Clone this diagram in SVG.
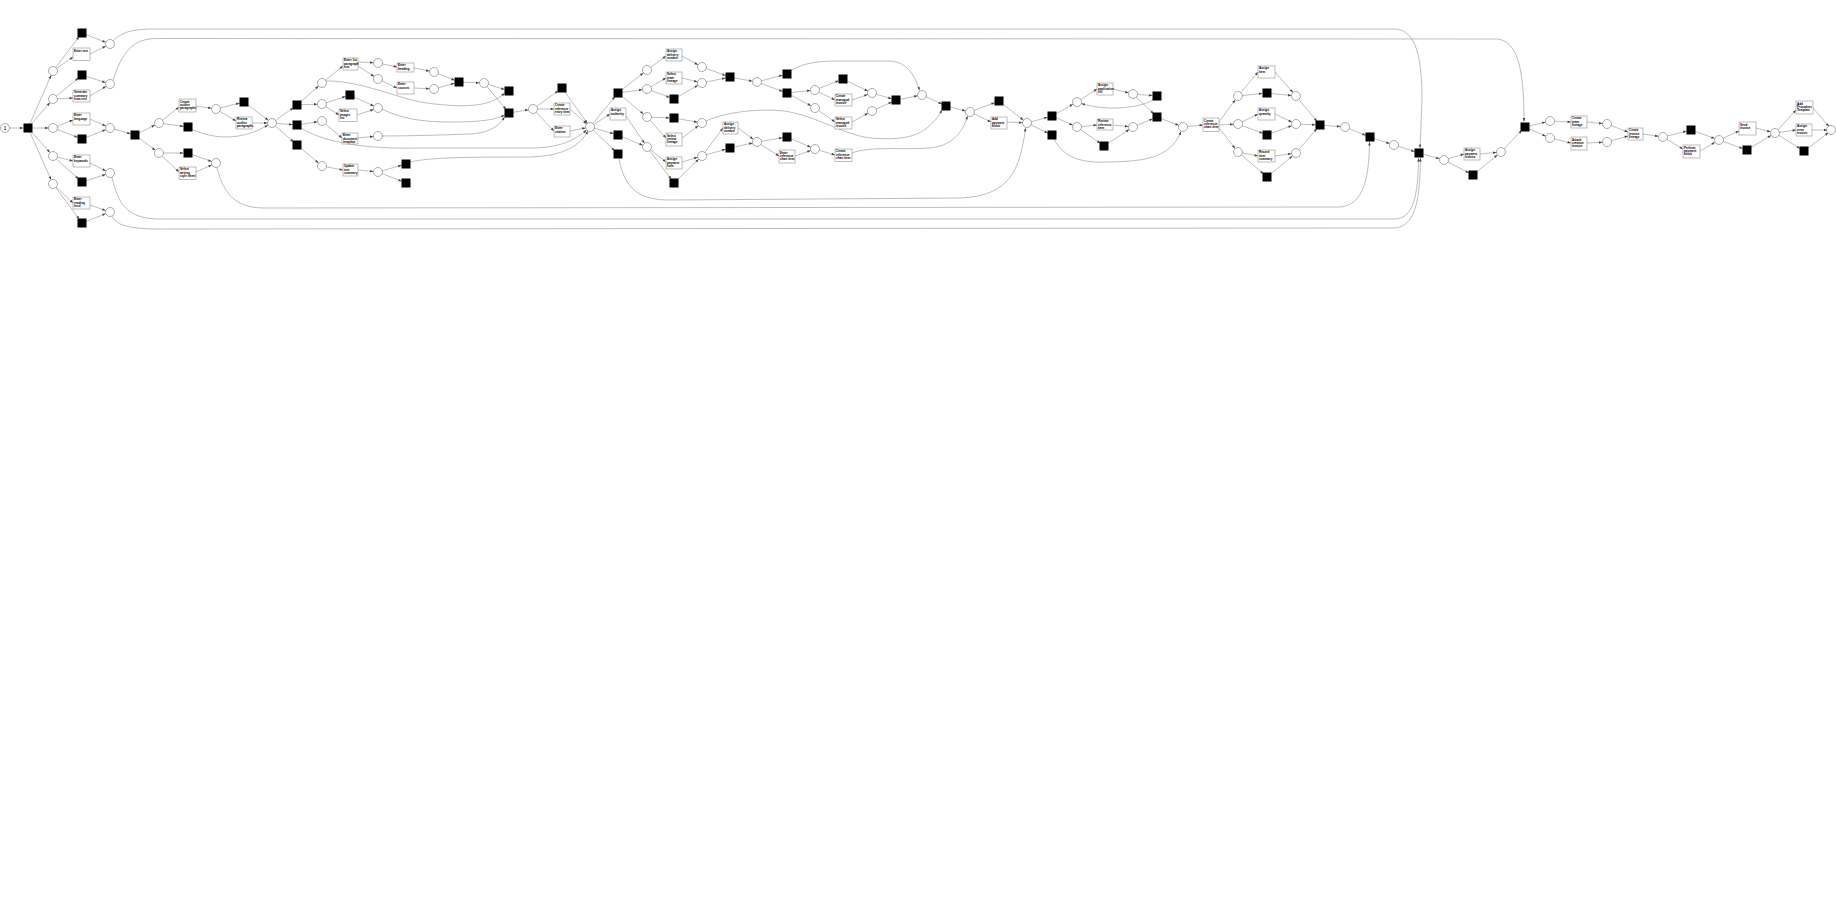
<svg xmlns="http://www.w3.org/2000/svg" width="1836" height="903" viewBox="0 0 1836 903">
<style>
.a{fill:none;stroke:#888;stroke-width:0.55;marker-end:url(#ah)}
.b{fill:none;stroke:#888;stroke-width:0.55;marker-end:url(#ahb)}
.p{fill:#fff;stroke:#666;stroke-width:0.55}
.t{fill:#000}
.x{fill:#fff;stroke:#888;stroke-width:0.55}
.l{font-family:"Liberation Sans",Arial,sans-serif;font-size:3px;font-weight:bold;fill:#000}
</style>
<defs>
<marker id="ah" markerUnits="userSpaceOnUse" markerWidth="4" markerHeight="3" refX="8" refY="1.25" orient="auto" overflow="visible"><path d="M0,0 L3.4,1.25 L0,2.5 z" fill="#444"/></marker>
<marker id="ahb" markerUnits="userSpaceOnUse" markerWidth="4" markerHeight="3" refX="3.4" refY="1.25" orient="auto" overflow="visible"><path d="M0,0 L3.4,1.25 L0,2.5 z" fill="#444"/></marker>
</defs>
<rect width="1836" height="903" fill="#fff"/>
<g id="connectors">
<path class="a" d="M5,128 L28,128"/>
<path class="a" d="M28,128 L53,71"/><path class="a" d="M28,128 L53,99"/><path class="a" d="M28,128 L53,128"/><path class="a" d="M28,128 L53,156"/><path class="a" d="M28,128 L53,184"/>
<path class="a" d="M53,71 L82,33"/><path class="b" d="M53,71 L73,57"/><path class="a" d="M82,33 L110,44"/><path class="a" d="M90,54 L110,44"/>
<path class="a" d="M53,99 L82,75"/><path class="b" d="M53,99 L73,98"/><path class="a" d="M82,75 L110,84"/><path class="a" d="M90,96 L110,84"/>
<path class="b" d="M53,128 L73,120"/><path class="a" d="M53,128 L82,139"/><path class="a" d="M90,119 L110,128"/><path class="a" d="M82,139 L110,128"/>
<path class="b" d="M53,156 L73,161"/><path class="a" d="M53,156 L82,182"/><path class="a" d="M90,163 L110,173"/><path class="a" d="M82,182 L110,173"/>
<path class="b" d="M53,184 L73,203"/><path class="a" d="M53,184 L82,223"/><path class="a" d="M90,205 L110,212"/><path class="a" d="M82,223 L110,212"/>
<path class="a" d="M110,128 L135,135"/><path class="a" d="M135,135 L159,123"/><path class="a" d="M135,135 L159,153"/>
<path class="b" d="M113,41 C122,32 132,29 155,29 L1395,29 C1417,30 1422,60 1422,100 L1420,148"/>
<path class="b" d="M113,80 C120,60 128,39 155,38.5 L1498,39 C1518,42 1524,70 1524,121.5"/>
<path class="b" d="M112,177 C118,205 128,219 160,219 L1395,219 C1414,218 1418,195 1418.5,158"/>
<path class="b" d="M112,216 C116,225 128,229 160,229 L1395,228 C1417,226 1420,195 1420.5,158"/>
<path class="b" d="M217,168 C224,195 236,207 262,208 L1340,207 C1363,205 1369,180 1369.5,142"/>
<path class="b" d="M159,123 L179,107"/><path class="a" d="M159,123 L188,127"/><path class="a" d="M196,106 L216,109"/>
<path class="b" d="M191,129 C220,142 246,138 268,125"/>
<path class="a" d="M216,109 L244,102"/><path class="b" d="M216,109 L236,121"/><path class="a" d="M244,102 L272,123"/><path class="a" d="M252,123 L272,123"/>
<path class="a" d="M159,153 L188,153"/><path class="b" d="M159,153 L179,172"/><path class="a" d="M188,153 L216,163"/><path class="a" d="M196,172 L216,163"/>
<path class="a" d="M272,123 L297,105"/><path class="a" d="M272,123 L297,125"/><path class="a" d="M272,123 L297,145"/>
<path class="a" d="M297,105 L322,83"/><path class="a" d="M297,105 L322,104"/><path class="a" d="M297,125 L322,121"/><path class="a" d="M297,145 L322,166"/>
<path class="b" d="M322,83 L343,66"/><path class="a" d="M358,62 L378,63"/><path class="a" d="M358,66 L378,79"/>
<path class="b" d="M378,63 L397,67"/><path class="b" d="M378,79 L397,88"/><path class="a" d="M414,68 L434,72"/><path class="a" d="M414,88 L434,89"/>
<path class="a" d="M434,72 L459,82"/><path class="a" d="M434,89 L459,82"/><path class="a" d="M459,82 L484,83"/>
<path class="a" d="M484,83 L509,91"/><path class="a" d="M484,83 L509,113"/>
<path class="b" d="M326,81 C355,80 390,95 420,102 C460,108 490,108 504.5,93"/>
<path class="a" d="M322,104 L350,95"/><path class="b" d="M322,104 L339,115"/><path class="a" d="M350,95 L378,108"/><path class="a" d="M357,115 L378,108"/>
<path class="b" d="M322,121 L342,138"/><path class="a" d="M358,138 L378,136"/>
<path class="b" d="M322,166 L343,170"/><path class="a" d="M358,170 L378,172"/>
<path class="a" d="M378,172 L406,164"/><path class="a" d="M378,172 L406,183"/>
<path class="b" d="M382,109 C400,118 420,122 450,122 C480,122 495,120 504.5,115"/>
<path class="b" d="M382,136 C410,136 440,135 470,134 C490,133 500,125 504.5,117"/>
<path class="b" d="M301,128 C330,146 380,149 420,148 L530,148 C560,148 575,140 586.5,130"/>
<path class="b" d="M410,162 C430,158 450,157 530,157 C565,156 580,145 588,131"/>
<path class="a" d="M509,113 L533,109"/>
<path class="a" d="M533,109 L562,88"/><path class="b" d="M533,109 L554,109"/><path class="b" d="M533,109 L554,131"/>
<path class="a" d="M562,88 L590,127"/><path class="a" d="M570,109 L590,127"/><path class="a" d="M570,131 L590,127"/>
<path class="a" d="M590,127 L618,93"/><path class="b" d="M590,127 L610,114"/><path class="a" d="M590,127 L618,135"/><path class="a" d="M590,127 L618,154"/>
<path class="a" d="M618,93 L647,70"/><path class="a" d="M618,93 L647,89"/><path class="a" d="M618,93 L647,117"/>
<path class="a" d="M626,116 L647,147"/><path class="a" d="M618,135 L647,147"/>
<path class="b" d="M619,159 C625,190 640,200 670,200 L960,198 C1010,196 1020,170 1025.5,128"/>
<path class="b" d="M647,70 L666,56"/><path class="a" d="M682,56 L702,67"/>
<path class="b" d="M647,89 L666,78"/><path class="a" d="M647,89 L674,99"/><path class="a" d="M682,78 L702,83"/><path class="a" d="M674,99 L702,83"/>
<path class="a" d="M702,67 L730,77"/><path class="a" d="M702,83 L730,77"/><path class="a" d="M730,77 L757,82"/>
<path class="a" d="M647,117 L674,118"/><path class="b" d="M647,117 L666,138"/><path class="a" d="M674,118 L702,123"/><path class="a" d="M682,138 L702,123"/>
<path class="b" d="M647,147 L666,162"/><path class="a" d="M647,147 L674,183"/><path class="a" d="M682,162 L702,156"/><path class="a" d="M674,183 L702,156"/>
<path class="b" d="M702,156 L723,128"/><path class="a" d="M702,156 L730,148"/><path class="a" d="M738,128 L757,142"/><path class="a" d="M730,148 L757,142"/>
<path class="b" d="M706,121 C730,110 770,108 790,112 C820,118 845,135 870,138 C900,140 925,140 942,110"/>
<path class="a" d="M757,82 L787,74"/><path class="a" d="M757,82 L787,93"/>
<path class="b" d="M790,71 C805,62 820,61 840,61 L890,61 C905,62 914,72 919.5,90.5"/>
<path class="a" d="M787,93 L815,90"/><path class="a" d="M787,93 L815,108"/>
<path class="a" d="M815,90 L843,79"/><path class="b" d="M815,90 L835,100"/><path class="a" d="M843,79 L872,93"/><path class="a" d="M852,100 L872,93"/>
<path class="b" d="M815,108 L835,122"/><path class="a" d="M852,122 L872,111"/>
<path class="a" d="M872,93 L896,100"/><path class="a" d="M872,111 L896,100"/><path class="a" d="M896,100 L922,95"/>
<path class="a" d="M757,142 L787,137"/><path class="b" d="M757,142 L779,156"/><path class="a" d="M787,137 L815,149"/><path class="a" d="M795,156 L815,149"/>
<path class="b" d="M815,149 L835,155"/>
<path class="b" d="M852,153 C870,146 900,150 930,148 C950,146 962,135 967.5,116"/>
<path class="a" d="M922,95 L946,106"/><path class="a" d="M946,106 L970,112"/>
<path class="a" d="M970,112 L999,101"/><path class="b" d="M970,112 L991,122"/><path class="a" d="M999,101 L1027,123"/><path class="a" d="M1007,122 L1027,123"/>
<path class="a" d="M1027,123 L1052,116"/><path class="a" d="M1027,123 L1052,135"/>
<path class="a" d="M1052,116 L1077,102"/><path class="a" d="M1052,116 L1077,127"/>
<path class="b" d="M1077,102 L1097,89"/><path class="a" d="M1113,89 L1133,94"/>
<path class="a" d="M1133,94 L1157,96"/><path class="a" d="M1133,94 L1157,117"/>
<path class="b" d="M1153,100 C1135,110 1100,110 1081.5,103.5"/>
<path class="b" d="M1077,127 L1097,125"/><path class="a" d="M1077,127 L1104,146"/><path class="a" d="M1113,125 L1133,127"/><path class="a" d="M1104,146 L1133,127"/>
<path class="a" d="M1133,127 L1157,117"/><path class="a" d="M1157,117 L1183,127"/>
<path class="b" d="M1054,139 C1065,160 1085,163 1110,162 C1140,161 1170,160 1181,131.5"/>
<path class="b" d="M1183,127 L1203,125"/>
<path class="a" d="M1219,122 L1238,96"/><path class="a" d="M1219,125 L1238,124"/><path class="a" d="M1219,128 L1238,152"/>
<path class="b" d="M1238,96 L1258,72"/><path class="a" d="M1238,96 L1267,93"/><path class="a" d="M1275,72 L1296,96"/><path class="a" d="M1267,93 L1296,96"/>
<path class="b" d="M1238,124 L1258,114"/><path class="a" d="M1238,124 L1267,135"/><path class="a" d="M1275,114 L1296,124"/><path class="a" d="M1267,135 L1296,124"/>
<path class="b" d="M1238,152 L1258,156"/><path class="a" d="M1238,152 L1267,177"/><path class="a" d="M1275,156 L1296,153"/><path class="a" d="M1267,177 L1296,153"/>
<path class="a" d="M1296,96 L1320,125"/><path class="a" d="M1296,124 L1320,125"/><path class="a" d="M1296,153 L1320,125"/>
<path class="a" d="M1320,125 L1345,127"/><path class="a" d="M1345,127 L1370,137"/><path class="a" d="M1370,137 L1394,145"/><path class="a" d="M1394,145 L1419,153"/><path class="a" d="M1419,153 L1444,160"/>
<path class="b" d="M1444,160 L1464,154"/><path class="a" d="M1444,160 L1473,175"/><path class="a" d="M1480,154 L1501,152"/><path class="a" d="M1473,175 L1501,152"/>
<path class="a" d="M1501,152 L1525,127"/><path class="a" d="M1525,127 L1550,121"/><path class="a" d="M1525,127 L1550,138"/>
<path class="b" d="M1550,121 L1571,122"/><path class="b" d="M1550,138 L1571,143"/><path class="a" d="M1587,122 L1607,124"/><path class="a" d="M1587,143 L1607,142"/>
<path class="b" d="M1607,124 L1628,132"/><path class="b" d="M1607,142 L1628,136"/><path class="a" d="M1643,134 L1663,137"/>
<path class="a" d="M1663,137 L1691,130"/><path class="b" d="M1663,137 L1683,149"/><path class="a" d="M1691,130 L1719,140"/><path class="a" d="M1700,151 L1719,140"/>
<path class="b" d="M1719,140 L1739,131"/><path class="a" d="M1719,140 L1747,150"/><path class="a" d="M1756,128 L1775,133"/><path class="a" d="M1747,150 L1775,133"/>
<path class="b" d="M1775,133 L1796,110"/><path class="b" d="M1775,133 L1796,130"/><path class="a" d="M1775,133 L1804,151"/>
<path class="a" d="M1813,108 L1832,130"/><path class="a" d="M1812,130 L1832,130"/><path class="a" d="M1804,151 L1832,130"/>
</g>
<g id="p0"><circle class="p" cx="5" cy="128" r="4.5"/><text x="5" y="130" font-family="Liberation Sans,Arial,sans-serif" font-size="5.5" text-anchor="middle">1</text></g>
<g id="p1"><circle class="p" cx="53" cy="71" r="4.5"/></g>
<g id="p2"><circle class="p" cx="53" cy="99" r="4.5"/></g>
<g id="p3"><circle class="p" cx="53" cy="128" r="4.5"/></g>
<g id="p4"><circle class="p" cx="53" cy="156" r="4.5"/></g>
<g id="p5"><circle class="p" cx="53" cy="184" r="4.5"/></g>
<g id="p1b"><circle class="p" cx="110" cy="44" r="4.5"/></g>
<g id="p2b"><circle class="p" cx="110" cy="84" r="4.5"/></g>
<g id="p3b"><circle class="p" cx="110" cy="128" r="4.5"/></g>
<g id="p4b"><circle class="p" cx="110" cy="173" r="4.5"/></g>
<g id="p5b"><circle class="p" cx="110" cy="212" r="4.5"/></g>
<g id="p6"><circle class="p" cx="159" cy="123" r="4.5"/></g>
<g id="p7"><circle class="p" cx="159" cy="153" r="4.5"/></g>
<g id="p8"><circle class="p" cx="216" cy="109" r="4.5"/></g>
<g id="p9"><circle class="p" cx="216" cy="163" r="4.5"/></g>
<g id="p10"><circle class="p" cx="272" cy="123" r="4.5"/></g>
<g id="p11"><circle class="p" cx="322" cy="83" r="4.5"/></g>
<g id="p12"><circle class="p" cx="322" cy="104" r="4.5"/></g>
<g id="p13"><circle class="p" cx="322" cy="121" r="4.5"/></g>
<g id="p14"><circle class="p" cx="322" cy="166" r="4.5"/></g>
<g id="p15"><circle class="p" cx="378" cy="63" r="4.5"/></g>
<g id="p16"><circle class="p" cx="378" cy="79" r="4.5"/></g>
<g id="p17"><circle class="p" cx="378" cy="108" r="4.5"/></g>
<g id="p18"><circle class="p" cx="378" cy="136" r="4.5"/></g>
<g id="p19"><circle class="p" cx="378" cy="172" r="4.5"/></g>
<g id="p20"><circle class="p" cx="434" cy="72" r="4.5"/></g>
<g id="p21"><circle class="p" cx="434" cy="89" r="4.5"/></g>
<g id="p22"><circle class="p" cx="484" cy="83" r="4.5"/></g>
<g id="p23"><circle class="p" cx="533" cy="109" r="4.5"/></g>
<g id="p24"><circle class="p" cx="590" cy="127" r="4.5"/></g>
<g id="p25"><circle class="p" cx="647" cy="70" r="4.5"/></g>
<g id="p26"><circle class="p" cx="647" cy="89" r="4.5"/></g>
<g id="p27"><circle class="p" cx="647" cy="117" r="4.5"/></g>
<g id="p28"><circle class="p" cx="647" cy="147" r="4.5"/></g>
<g id="p29"><circle class="p" cx="702" cy="67" r="4.5"/></g>
<g id="p30"><circle class="p" cx="702" cy="83" r="4.5"/></g>
<g id="p31"><circle class="p" cx="702" cy="123" r="4.5"/></g>
<g id="p32"><circle class="p" cx="702" cy="156" r="4.5"/></g>
<g id="p33"><circle class="p" cx="757" cy="82" r="4.5"/></g>
<g id="p34"><circle class="p" cx="757" cy="142" r="4.5"/></g>
<g id="p35"><circle class="p" cx="815" cy="90" r="4.5"/></g>
<g id="p36"><circle class="p" cx="815" cy="108" r="4.5"/></g>
<g id="p37"><circle class="p" cx="815" cy="149" r="4.5"/></g>
<g id="p38"><circle class="p" cx="872" cy="93" r="4.5"/></g>
<g id="p39"><circle class="p" cx="872" cy="111" r="4.5"/></g>
<g id="p40"><circle class="p" cx="922" cy="95" r="4.5"/></g>
<g id="p41"><circle class="p" cx="970" cy="112" r="4.5"/></g>
<g id="p42"><circle class="p" cx="1027" cy="123" r="4.5"/></g>
<g id="p43"><circle class="p" cx="1077" cy="102" r="4.5"/></g>
<g id="p44"><circle class="p" cx="1077" cy="127" r="4.5"/></g>
<g id="p45"><circle class="p" cx="1133" cy="94" r="4.5"/></g>
<g id="p46"><circle class="p" cx="1133" cy="127" r="4.5"/></g>
<g id="p47"><circle class="p" cx="1183" cy="127" r="4.5"/></g>
<g id="p48"><circle class="p" cx="1238" cy="96" r="4.5"/></g>
<g id="p49"><circle class="p" cx="1238" cy="124" r="4.5"/></g>
<g id="p50"><circle class="p" cx="1238" cy="152" r="4.5"/></g>
<g id="p51"><circle class="p" cx="1296" cy="96" r="4.5"/></g>
<g id="p52"><circle class="p" cx="1296" cy="124" r="4.5"/></g>
<g id="p53"><circle class="p" cx="1296" cy="153" r="4.5"/></g>
<g id="p54"><circle class="p" cx="1345" cy="127" r="4.5"/></g>
<g id="p55"><circle class="p" cx="1394" cy="145" r="4.5"/></g>
<g id="p56"><circle class="p" cx="1444" cy="160" r="4.5"/></g>
<g id="p57"><circle class="p" cx="1501" cy="152" r="4.5"/></g>
<g id="p58"><circle class="p" cx="1550" cy="121" r="4.5"/></g>
<g id="p59"><circle class="p" cx="1550" cy="138" r="4.5"/></g>
<g id="p60"><circle class="p" cx="1607" cy="124" r="4.5"/></g>
<g id="p61"><circle class="p" cx="1607" cy="142" r="4.5"/></g>
<g id="p62"><circle class="p" cx="1663" cy="137" r="4.5"/></g>
<g id="p63"><circle class="p" cx="1719" cy="140" r="4.5"/></g>
<g id="p64"><circle class="p" cx="1775" cy="133" r="4.5"/></g>
<g id="p65"><circle class="p" cx="1831" cy="130" r="4.5"/></g>
<g id="t0"><rect class="t" x="23.5" y="123.5" width="9" height="9"/></g>
<g id="t1a"><rect class="t" x="77.5" y="28.5" width="9" height="9"/></g>
<g id="t2a"><rect class="t" x="77.5" y="70.5" width="9" height="9"/></g>
<g id="t3a"><rect class="t" x="77.5" y="134.5" width="9" height="9"/></g>
<g id="t4a"><rect class="t" x="77.5" y="177.5" width="9" height="9"/></g>
<g id="t5a"><rect class="t" x="77.5" y="218.5" width="9" height="9"/></g>
<g id="t3b"><rect class="t" x="130.5" y="130.5" width="9" height="9"/></g>
<g id="t6"><rect class="t" x="183.5" y="122.5" width="9" height="9"/></g>
<g id="t7"><rect class="t" x="239.5" y="97.5" width="9" height="9"/></g>
<g id="t8"><rect class="t" x="183.5" y="148.5" width="9" height="9"/></g>
<g id="t9"><rect class="t" x="292.5" y="100.5" width="9" height="9"/></g>
<g id="t10"><rect class="t" x="292.5" y="120.5" width="9" height="9"/></g>
<g id="t11"><rect class="t" x="292.5" y="140.5" width="9" height="9"/></g>
<g id="t12"><rect class="t" x="345.5" y="90.5" width="9" height="9"/></g>
<g id="t13"><rect class="t" x="401.5" y="159.5" width="9" height="9"/></g>
<g id="t14"><rect class="t" x="401.5" y="178.5" width="9" height="9"/></g>
<g id="t15"><rect class="t" x="454.5" y="77.5" width="9" height="9"/></g>
<g id="t16"><rect class="t" x="504.5" y="86.5" width="9" height="9"/></g>
<g id="t17"><rect class="t" x="504.5" y="108.5" width="9" height="9"/></g>
<g id="t18"><rect class="t" x="557.5" y="83.5" width="9" height="9"/></g>
<g id="t19"><rect class="t" x="613.5" y="88.5" width="9" height="9"/></g>
<g id="t20"><rect class="t" x="613.5" y="130.5" width="9" height="9"/></g>
<g id="t21"><rect class="t" x="613.5" y="149.5" width="9" height="9"/></g>
<g id="t22"><rect class="t" x="669.5" y="94.5" width="9" height="9"/></g>
<g id="t23"><rect class="t" x="669.5" y="113.5" width="9" height="9"/></g>
<g id="t24"><rect class="t" x="669.5" y="178.5" width="9" height="9"/></g>
<g id="t25"><rect class="t" x="725.5" y="72.5" width="9" height="9"/></g>
<g id="t26"><rect class="t" x="725.5" y="143.5" width="9" height="9"/></g>
<g id="t27"><rect class="t" x="782.5" y="69.5" width="9" height="9"/></g>
<g id="t28"><rect class="t" x="782.5" y="88.5" width="9" height="9"/></g>
<g id="t29"><rect class="t" x="782.5" y="132.5" width="9" height="9"/></g>
<g id="t30"><rect class="t" x="838.5" y="74.5" width="9" height="9"/></g>
<g id="t31"><rect class="t" x="891.5" y="95.5" width="9" height="9"/></g>
<g id="t32"><rect class="t" x="941.5" y="101.5" width="9" height="9"/></g>
<g id="t33"><rect class="t" x="994.5" y="96.5" width="9" height="9"/></g>
<g id="t34"><rect class="t" x="1047.5" y="111.5" width="9" height="9"/></g>
<g id="t35"><rect class="t" x="1047.5" y="130.5" width="9" height="9"/></g>
<g id="t36"><rect class="t" x="1152.5" y="91.5" width="9" height="9"/></g>
<g id="t37"><rect class="t" x="1152.5" y="112.5" width="9" height="9"/></g>
<g id="t38"><rect class="t" x="1099.5" y="141.5" width="9" height="9"/></g>
<g id="t39"><rect class="t" x="1262.5" y="88.5" width="9" height="9"/></g>
<g id="t40"><rect class="t" x="1262.5" y="130.5" width="9" height="9"/></g>
<g id="t41"><rect class="t" x="1262.5" y="172.5" width="9" height="9"/></g>
<g id="t42"><rect class="t" x="1315.5" y="120.5" width="9" height="9"/></g>
<g id="t43"><rect class="t" x="1365.5" y="132.5" width="9" height="9"/></g>
<g id="t44"><rect class="t" x="1414.5" y="148.5" width="9" height="9"/></g>
<g id="t45"><rect class="t" x="1468.5" y="170.5" width="9" height="9"/></g>
<g id="t46"><rect class="t" x="1520.5" y="122.5" width="9" height="9"/></g>
<g id="t47"><rect class="t" x="1686.5" y="125.5" width="9" height="9"/></g>
<g id="t48"><rect class="t" x="1742.5" y="145.5" width="9" height="9"/></g>
<g id="t49"><rect class="t" x="1799.5" y="146.5" width="9" height="9"/></g>
<g id="b1"><rect class="x" x="73" y="48" width="17" height="12.5"/><text class="l" x="74" y="51.5">Enter text</text></g>
<g id="b2"><rect class="x" x="73" y="90" width="17" height="12"/><text class="l" x="74" y="93.3">Generate</text><text class="l" x="74" y="96.6">summary</text><text class="l" x="74" y="99.9">from text</text></g>
<g id="b3"><rect class="x" x="73" y="113" width="17" height="12"/><text class="l" x="74" y="116.3">Enter</text><text class="l" x="74" y="119.6">language</text></g>
<g id="b4"><rect class="x" x="73" y="155" width="17" height="12"/><text class="l" x="74" y="158.3">Enter</text><text class="l" x="74" y="161.6">keywords</text></g>
<g id="b5"><rect class="x" x="73" y="197" width="17" height="12"/><text class="l" x="74" y="200.3">Enter</text><text class="l" x="74" y="203.6">reading</text><text class="l" x="74" y="206.9">level</text></g>
<g id="b6"><rect class="x" x="179" y="99" width="17" height="13"/><text class="l" x="180" y="102.5">Create</text><text class="l" x="180" y="105.8">outline</text><text class="l" x="180" y="109.1">paragraphs</text></g>
<g id="b7"><rect class="x" x="236" y="117" width="16" height="12"/><text class="l" x="237" y="120.3">Review</text><text class="l" x="237" y="123.6">outline</text><text class="l" x="237" y="126.9">paragraphs</text></g>
<g id="b8"><rect class="x" x="179" y="167" width="17" height="12.5"/><text class="l" x="180" y="170.4">Select</text><text class="l" x="180" y="173.7">writing</text><text class="l" x="180" y="177">style sheet</text></g>
<g id="b9"><rect class="x" x="343" y="58" width="15" height="12"/><text class="l" x="344" y="61.3">Enter 1st</text><text class="l" x="344" y="64.6">paragraph</text><text class="l" x="344" y="67.9">text</text></g>
<g id="b10"><rect class="x" x="397" y="63" width="17" height="9"/><text class="l" x="398" y="66.3">Enter</text><text class="l" x="398" y="69.6">heading</text></g>
<g id="b11"><rect class="x" x="397" y="82" width="17" height="12"/><text class="l" x="398" y="85.3">Enter</text><text class="l" x="398" y="88.6">sources</text></g>
<g id="b12"><rect class="x" x="339" y="109" width="18" height="12.5"/><text class="l" x="340" y="112.3">Select</text><text class="l" x="340" y="115.6">images</text><text class="l" x="340" y="118.9">list</text></g>
<g id="b13"><rect class="x" x="342" y="133" width="16" height="11"/><text class="l" x="343" y="136.3">Enter</text><text class="l" x="343" y="139.6">document</text><text class="l" x="343" y="142.9">template</text></g>
<g id="b14"><rect class="x" x="343" y="164" width="15" height="12"/><text class="l" x="344" y="167.3">Update</text><text class="l" x="344" y="170.6">text</text><text class="l" x="344" y="173.9">summary</text></g>
<g id="b15"><rect class="x" x="554" y="103" width="16" height="12"/><text class="l" x="555" y="106.3">Create</text><text class="l" x="555" y="109.6">reference</text><text class="l" x="555" y="112.9">entry item</text></g>
<g id="b16"><rect class="x" x="554" y="126" width="16" height="11"/><text class="l" x="555" y="129.3">Enter</text><text class="l" x="555" y="132.6">citation</text></g>
<g id="b17"><rect class="x" x="610" y="108" width="16" height="12"/><text class="l" x="611" y="111.3">Assign</text><text class="l" x="611" y="114.6">authority</text></g>
<g id="b18"><rect class="x" x="666" y="49" width="16" height="12"/><text class="l" x="667" y="52.3">Assign</text><text class="l" x="667" y="55.6">delivery</text><text class="l" x="667" y="58.9">number</text></g>
<g id="b19"><rect class="x" x="666" y="72" width="16" height="12"/><text class="l" x="667" y="75.3">Select</text><text class="l" x="667" y="78.6">team</text><text class="l" x="667" y="81.9">lineage</text></g>
<g id="b20"><rect class="x" x="666" y="133" width="16" height="13"/><text class="l" x="667" y="136.5">Select</text><text class="l" x="667" y="139.8">review</text><text class="l" x="667" y="143.1">lineage</text></g>
<g id="b21"><rect class="x" x="666" y="157" width="16" height="12"/><text class="l" x="667" y="160.3">Assign</text><text class="l" x="667" y="163.6">payment</text><text class="l" x="667" y="166.9">form</text></g>
<g id="b22"><rect class="x" x="723" y="122" width="15" height="12"/><text class="l" x="724" y="125.3">Assign</text><text class="l" x="724" y="128.6">delivery</text><text class="l" x="724" y="131.9">number</text></g>
<g id="b23"><rect class="x" x="779" y="150" width="16" height="13"/><text class="l" x="780" y="153.5">Enter</text><text class="l" x="780" y="156.8">reference</text><text class="l" x="780" y="160.1">chart item</text></g>
<g id="b24"><rect class="x" x="835" y="94" width="17" height="12"/><text class="l" x="836" y="97.3">Create</text><text class="l" x="836" y="100.6">managed</text><text class="l" x="836" y="103.9">invoice</text></g>
<g id="b25"><rect class="x" x="835" y="117" width="17" height="12"/><text class="l" x="836" y="120.3">Select</text><text class="l" x="836" y="123.6">managed</text><text class="l" x="836" y="126.9">invoice</text></g>
<g id="b26"><rect class="x" x="835" y="149" width="17" height="12.5"/><text class="l" x="836" y="152.3">Create</text><text class="l" x="836" y="155.6">reference</text><text class="l" x="836" y="158.9">chart item</text></g>
<g id="b27"><rect class="x" x="991" y="117" width="16" height="12"/><text class="l" x="992" y="120.3">Add</text><text class="l" x="992" y="123.6">payment</text><text class="l" x="992" y="126.9">block</text></g>
<g id="b28"><rect class="x" x="1097" y="83" width="16" height="12"/><text class="l" x="1098" y="86.3">Assign</text><text class="l" x="1098" y="89.6">application</text><text class="l" x="1098" y="92.9">list</text></g>
<g id="b29"><rect class="x" x="1097" y="119" width="16" height="11"/><text class="l" x="1098" y="122.3">Review</text><text class="l" x="1098" y="125.6">reference</text><text class="l" x="1098" y="128.9">item</text></g>
<g id="b30"><rect class="x" x="1203" y="118" width="16" height="13.5"/><text class="l" x="1204" y="121.5">Create</text><text class="l" x="1204" y="124.8">reference</text><text class="l" x="1204" y="128.1">chart item</text></g>
<g id="b31"><rect class="x" x="1258" y="66" width="17" height="12"/><text class="l" x="1259" y="69.3">Assign</text><text class="l" x="1259" y="72.6">item</text></g>
<g id="b32"><rect class="x" x="1258" y="108" width="17" height="12"/><text class="l" x="1259" y="111.3">Assign</text><text class="l" x="1259" y="114.6">quantity</text></g>
<g id="b33"><rect class="x" x="1258" y="150" width="17" height="12"/><text class="l" x="1259" y="153.3">Record</text><text class="l" x="1259" y="156.6">item</text><text class="l" x="1259" y="159.9">summary</text></g>
<g id="b34"><rect class="x" x="1464" y="148" width="16" height="12"/><text class="l" x="1465" y="151.3">Assign</text><text class="l" x="1465" y="154.6">payment</text><text class="l" x="1465" y="157.9">invoice</text></g>
<g id="b35"><rect class="x" x="1571" y="116" width="16" height="12"/><text class="l" x="1572" y="119.3">Create</text><text class="l" x="1572" y="122.6">team</text><text class="l" x="1572" y="125.9">lineage</text></g>
<g id="b36"><rect class="x" x="1571" y="137" width="16" height="13"/><text class="l" x="1572" y="140.5">Attach</text><text class="l" x="1572" y="143.8">creation</text><text class="l" x="1572" y="147.1">invoice</text></g>
<g id="b37"><rect class="x" x="1628" y="128" width="15" height="12"/><text class="l" x="1629" y="131.3">Create</text><text class="l" x="1629" y="134.6">invoice</text><text class="l" x="1629" y="137.9">lineage</text></g>
<g id="b38"><rect class="x" x="1683" y="145" width="17" height="13"/><text class="l" x="1684" y="148.5">Perform</text><text class="l" x="1684" y="151.8">payment</text><text class="l" x="1684" y="155.1">block</text></g>
<g id="b39"><rect class="x" x="1739" y="122" width="17" height="13"/><text class="l" x="1740" y="125.5">Send</text><text class="l" x="1740" y="128.8">invoice</text></g>
<g id="b40"><rect class="x" x="1796" y="101" width="17" height="13"/><text class="l" x="1797" y="104.5">Add</text><text class="l" x="1797" y="107.8">Procedure</text><text class="l" x="1797" y="111.1">Template</text></g>
<g id="b41"><rect class="x" x="1796" y="124" width="16" height="12"/><text class="l" x="1797" y="127.3">Assign</text><text class="l" x="1797" y="130.6">error</text><text class="l" x="1797" y="133.9">invoice</text></g>
</svg>
